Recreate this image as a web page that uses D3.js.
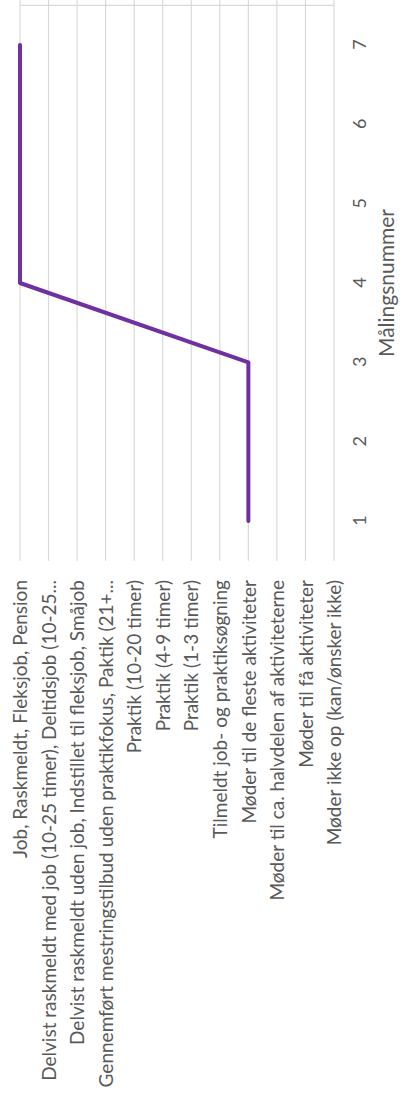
<!DOCTYPE html>
<html>
<head>
<meta charset="utf-8">
<script src="https://cdn.jsdelivr.net/npm/d3@7"></script>
<style>
  html, body { margin: 0; padding: 0; background: #fff; }
  svg { display: block; }
</style>
</head>
<body>
<svg id="chart" width="402" height="1098"></svg>
<script>
// Status levels, from highest (job) to lowest (does not show up)
const levels = [
  "Job, Raskmeldt, Fleksjob, Pension",
  "Delvist raskmeldt med job (10-25 timer), Deltidsjob (10-25...",
  "Delvist raskmeldt uden job, Indstillet til fleksjob, Småjob",
  "Gennemført mestringstilbud uden praktikfokus, Paktik (21+...",
  "Praktik (10-20 timer)",
  "Praktik (4-9 timer)",
  "Praktik (1-3 timer)",
  "Tilmeldt job- og praktiksøgning",
  "Møder til de fleste aktiviteter",
  "Møder til ca. halvdelen af aktiviteterne",
  "Møder til få aktiviteter",
  "Møder ikke op (kan/ønsker ikke)"
];

// Measurement numbers and the level reached at each measurement
const measurements = [1, 2, 3, 4, 5, 6, 7];
const levelAtMeasurement = [
  "Møder til de fleste aktiviteter",
  "Møder til de fleste aktiviteter",
  "Møder til de fleste aktiviteter",
  "Job, Raskmeldt, Fleksjob, Pension",
  "Job, Raskmeldt, Fleksjob, Pension",
  "Job, Raskmeldt, Fleksjob, Pension",
  "Job, Raskmeldt, Fleksjob, Pension"
];
const axisTitle = "Målingsnummer";

const W = 402, H = 1098;
const FONT = "Lato, 'Open Sans', sans-serif";
const TEXT = "#595959";
const GRID = "#d9d9d9";

const svg = d3.select("#chart");

// The chart is laid out in landscape (H wide, W tall) and turned a quarter
// turn counter-clockwise onto the portrait page.
const g = svg.append("g")
  .attr("transform", `translate(0,${H}) rotate(-90)`);

// Horizontal: measurement number
const x = d3.scaleLinear().domain([0.5, 7.5]).range([537.3, 1092.7]);
// Vertical: status level
const y = d3.scalePoint().domain(levels).range([20, 334]);

// Gridlines, one per level
g.append("g").selectAll("line")
  .data(levels)
  .join("line")
  .attr("x1", x(0.5)).attr("x2", H)
  .attr("y1", d => y(d)).attr("y2", d => y(d))
  .attr("stroke", GRID).attr("stroke-width", 1.2);

// Plot edge on the far side
g.append("line")
  .attr("x1", x(7.5)).attr("x2", x(7.5))
  .attr("y1", y(levels[0])).attr("y2", y(levels[levels.length - 1]))
  .attr("stroke", GRID).attr("stroke-width", 1.2);

// Level labels
const yAxis = d3.axisLeft(y).tickSize(0).tickPadding(0);
const yG = g.append("g")
  .attr("transform", `translate(${H - 580},0)`)
  .call(yAxis);
yG.select(".domain").remove();
yG.selectAll("text")
  .style("font-family", FONT)
  .style("font-size", "19px")
  .attr("fill", TEXT)
  .attr("dy", "0.35em");

// Measurement tick labels
const xAxis = d3.axisBottom(x).tickValues(measurements).tickSize(0).tickPadding(0)
  .tickFormat(d3.format("d"));
const xG = g.append("g")
  .attr("transform", "translate(0,360)")
  .call(xAxis);
xG.select(".domain").remove();
xG.selectAll("text")
  .style("font-family", FONT)
  .style("font-size", "18px")
  .attr("fill", TEXT)
  .attr("dy", "0.35em")
  .attr("y", 0);

// Axis title
g.append("text")
  .attr("x", (x(0.5) + x(7.5)) / 2)
  .attr("y", 387)
  .attr("text-anchor", "middle")
  .attr("dy", "0.35em")
  .style("font-family", FONT)
  .style("font-size", "21px")
  .attr("fill", TEXT)
  .text(axisTitle);

// Development line
const line = d3.line()
  .x((d, i) => x(measurements[i]))
  .y(d => y(d));
g.append("path")
  .datum(levelAtMeasurement)
  .attr("d", line)
  .attr("fill", "none")
  .attr("stroke", "#7030a0")
  .attr("stroke-width", 4)
  .attr("stroke-linecap", "round")
  .attr("stroke-linejoin", "round");
</script>
</body>
</html>
